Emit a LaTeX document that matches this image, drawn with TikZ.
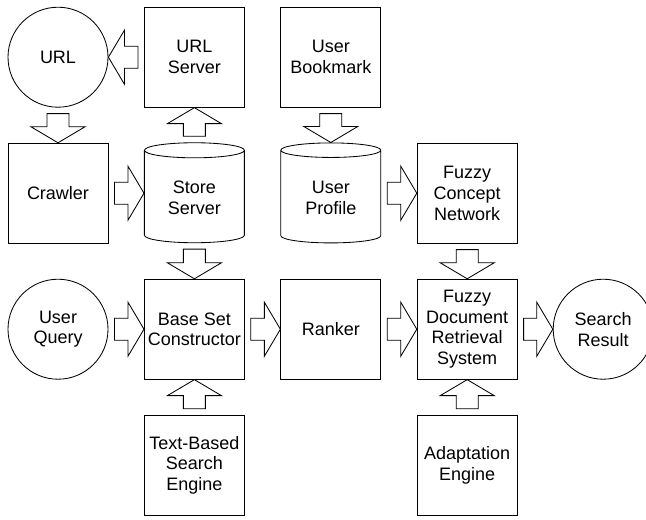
\documentclass[tikz,border=0pt]{standalone}
\usepackage{fontspec}
\setmainfont{Liberation Sans}
\usetikzlibrary{calc,positioning,shapes.geometric}

\begin{document}
\begin{tikzpicture}[
  line width=0.6pt,
  label font/.style={font=\fontsize{12.8}{14.8}\selectfont},
  box/.style={draw,label font,minimum width=2.5cm,minimum height=2.5cm,align=center,inner sep=1pt},
  endpoint/.style={draw,circle,label font,minimum size=2.5cm,align=center,inner sep=1pt},
  store/.style={draw,cylinder,shape border rotate=90,aspect=0.27,label font,minimum width=2.5cm,minimum height=2.5cm,align=center,inner sep=1pt},
  hollow/.style={to path={
    let \p1=($(\tikztostart)!0.15cm!(\tikztotarget)$),
        \p2=(\tikztotarget),
        \p3=($(\p2)!0.4cm!(\p1)$) in
    ($(\p1)!0.275cm!90:(\p2)$) -- ($(\p3)!0.275cm!-90:(\p1)$) -- ($(\p3)!0.675cm!-90:(\p1)$) -- (\p2)
    -- ($(\p3)!0.675cm!90:(\p1)$) -- ($(\p3)!0.275cm!90:(\p1)$) -- ($(\p1)!0.275cm!-90:(\p2)$) -- cycle}}
]
\path[use as bounding box,clip] (0,0) rectangle (16.15,-12.975);

\node[endpoint] (url) at (1.45,-1.43) {URL};
\node[box] (urlserver) at (4.86,-1.43) {URL\\Server};
\node[box] (bookmark) at (8.27,-1.43) {User\\Bookmark};

\node[box] (crawler) at (1.45,-4.83) {Crawler};
\node[store] (storeserver) at (4.86,-4.94) {Store\\Server};
\node[store] (profile) at (8.27,-4.94) {User\\Profile};
\node[box] (concept) at (11.68,-4.83) {Fuzzy\\Concept\\Network};

\node[endpoint] (query) at (1.45,-8.23) {User\\Query};
\node[box] (baseset) at (4.86,-8.23) {Base Set\\Constructor};
\node[box] (ranker) at (8.27,-8.23) {Ranker};
\node[box] (retrieval) at (11.68,-8.23) {Fuzzy\\Document\\Retrieval\\System};
\node[endpoint] (result) at (15.08,-8.23) {Search\\Result};

\node[box] (textsearch) at (4.86,-11.63) {Text-Based\\Search\\Engine};
\node[box] (adaptation) at (11.68,-11.63) {Adaptation\\Engine};

% block arrows between the components
\draw[hollow] (urlserver.west) to (url.east);
\draw[hollow] (url.south) to (crawler.north);
\draw[hollow] (crawler.east) to (crawler.east -| storeserver.west);
\draw[hollow] (storeserver.north) to (urlserver.south);
\draw[hollow] (bookmark.south) to (profile.north);
\draw[hollow] (concept.west -| profile.east) to (concept.west);
\draw[hollow] (storeserver.south) to (baseset.north);
\draw[hollow] (concept.south) to (retrieval.north);
\draw[hollow] (query.east) to (baseset.west);
\draw[hollow] (baseset.east) to (ranker.west);
\draw[hollow] (ranker.east) to (retrieval.west);
\draw[hollow] (retrieval.east) to (result.west);
\draw[hollow] (textsearch.north) to (baseset.south);
\draw[hollow] (adaptation.north) to (retrieval.south);
\end{tikzpicture}
\end{document}
